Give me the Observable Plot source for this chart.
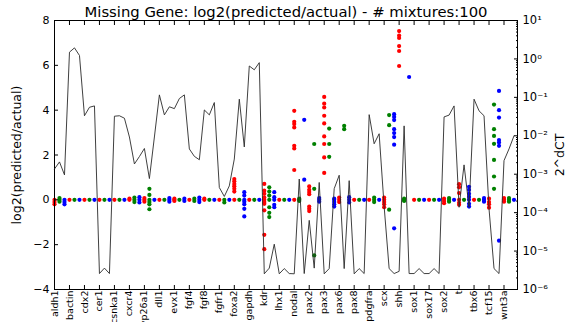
<!DOCTYPE html>
<html><head><meta charset="utf-8">
<script src="https://cdn.jsdelivr.net/npm/d3@7"></script>
<script src="https://cdn.jsdelivr.net/npm/@observablehq/plot@0.6"></script>
<style>
body{margin:0;background:#fff;}
#wrap{position:relative;width:577px;height:322px;overflow:hidden;background:#fff;}
#wrap svg{position:absolute;left:0;top:0;}
</style></head><body><div id="wrap"></div>
<script>
const title = "Missing Gene: log2(predicted/actual) - # mixtures:100";
const genes = ["aldh1","bactin","cdx2","cer1","csnka1","cxcr4","cyp26a1","dll1","evx1","fgf4","fgf8","fgfr1","foxa2","gapdh","kdr","lhx1","nodal","pax2","pax3","pax6","pax8","pdgfra","scx","shh","sox1","sox17","sox2","t","tbx6","tcf15","wnt3a"];

// actual expression 2^dCT, three samples (red, green, blue) per gene
const dct = [
  1.37e-3, 2.09e-3, 9.6e-4,
  1.50, 1.94, 1.23,
  0.0332, 0.0552, 0.0599,
  2.6e-6, 3.6e-6, 2.6e-6,
  0.0323, 0.0332, 0.0286,
  9.3e-3, 1.85e-3, 2.88e-3,
  4.67e-3, 7.7e-4, 9.3e-3,
  0.116, 0.035, 0.0568,
  0.0509, 0.0933, 0.116,
  4.54e-3, 2.92e-3, 2.38e-3,
  0.047, 0.035, 0.0733,
  4.5e-4, 2.64e-4, 4.96e-4,
  2.48e-3, 0.0896, 5.13e-3,
  0.655, 0.521, 0.80,
  2.56e-6, 3.6e-6, 1.51e-5,
  2.56e-6, 3.5e-6, 2.6e-6,
  2.56e-6, 7.5e-4, 2.6e-6,
  6.3e-5, 3.6e-6, 6.1e-4,
  2.56e-6, 3.5e-6, 4.2e-4,
  9.4e-4, 3.5e-6, 6.8e-4,
  2.56e-6, 3.5e-6, 2.6e-6,
  0.0355, 6.2e-3, 0.0113,
  1.44e-4, 3.5e-6, 2.6e-6,
  2.97e-6, 0.0181, 2.6e-6,
  2.6e-6, 3.5e-6, 2.6e-6,
  2.6e-6, 3.5e-6, 2.6e-6,
  0.031, 0.0345, 0.0599,
  1.38e-4, 1.75e-3, 1.38e-4,
  0.0896, 0.0446, 0.0332,
  1.26e-4, 3.5e-6, 2.6e-6,
  2.26e-3, 4.54e-3, 0.01
];

// log2(predicted/actual) per gene, distinct values seen over the mixtures
const redVals = [
  [0,-0.1,-0.2],[0],[0],[0],[0],[0,0.05],[0,0.08,-0.08],[0],[0,0.05,-0.05],[0],[0,0.05],[0],
  [0,0.37,0.49,0.61,0.71,0.83,0.93],[0],
  [0.71,0.41,0.27,0.1,0,-0.1,-0.18,-0.47,-1.56,-2.2],[0],
  [3.97,3.48,3.38,3.23,2.41,2.29,1.33,0],
  [0.6,0.45,0.35,0.25,-0.3,-0.4,-0.5],
  [4.59,4.29,4.12,3.75,3.41,2.83,2.49,1.89,1.2],
  [0.1,0,-0.1],[0],[0],[0.1,0,-0.1,-0.2,-0.33],
  [7.53,7.33,7.22,6.86,6.64,5.97],
  [0],[0],[0.05,-0.05,-0.15],[0.7,0.56,0.3,0,-0.13,-0.22],[0],[0.05,-0.1,-0.2,-0.35],[0.08,0,-0.08]
];
const greenVals = [
  [0.08,0,-0.08],[0],[0],[0],[0],[0.1,0,-0.1],[0.49,0.22,0,-0.1,-0.2,-0.42],[0],[0],[0.05,-0.05],[0],[0,-0.12],
  [0],[0],[0.56,0.37,0.19,0,-0.33,-0.58,-0.77],[0],[0.05,0,-0.05],
  [2.49,0.49,-2.48],[3.18,2.49,1.92],[3.3,3.15],[0],[0.1,0,-0.1],[3.78,3.33,-0.44],[0.05,0,-0.05],
  [0],[0],[0.08,0,-0.08],[0],[0],[4.25,3.15,2.85,2.5,1.78,1.04,0.49],[0.08,0,-0.08]
];
const blueVals = [
  [0,-0.1,-0.2],[0],[0],[0],[0],[0.12,0,-0.12],[0],[0.08,0,-0.08],[0.05,-0.05],[0.1,0,-0.1],[0],[0],
  [0.34,0.19,0,-0.08,-0.2,-0.4,-0.74],[0],[0.34,0.12,0,-0.22,-0.33],[0],
  [3.57,0.9],[0.08,0,-0.08],[0.05,0,-0.1,-0.2,-0.3],[0.12,0,-0.12],[0],[0],
  [3.82,3.7,3.56,3.15,2.98,2.8,2.46,-1.27],[5.48],
  [0],[0],[0],[0.58,0.44,0.27,0.13,0,-0.18,-0.3],[0.08,0,-0.08],[4.86,4.0,3.67,2.67,2.56,2.41,-1.82],[0]
];
const leftTicks = [-4,-2,0,2,4,6,8];
const rightTicks = [1e-6,1e-5,1e-4,1e-3,1e-2,1e-1,1,10];
const supMap = {"-":"⁻","0":"⁰","1":"¹","2":"²","3":"³","4":"⁴","5":"⁵","6":"⁶","7":"⁷","8":"⁸","9":"⁹"};

const series = [["#ff0000", redVals, 0], ["#008000", greenVals, 1], ["#0000ff", blueVals, 2]];
const dots = series.flatMap(([c, vals, off]) => vals.flatMap((arr, g) => arr.map(v => ({pos: g*3 + off, v, c}))));
const lineData = dct.map((v, k) => ({pos: k, v}));
const geneTicks = genes.map((g, i) => i*3);
const minorTicks = d3.range(-6, 1).flatMap(e => d3.range(2, 10).map(m => m * Math.pow(10, e)));

const W = 577, H = 322;
const M = {marginLeft: 54, marginRight: 60, marginTop: 20, marginBottom: 33};
const xDomain = [0, 92.7];
const font = "DejaVu Sans";

const p1 = Plot.plot({
  width: W, height: H, ...M,
  style: {fontFamily: font, fontSize: "11px", background: "transparent", color: "#000"},
  x: {domain: xDomain},
  y: {domain: [-4, 8]},
  color: {type: "identity"},
  marks: [
    Plot.dot(dots, {x: "pos", y: "v", r: 2.1, fill: "c", stroke: null}),
    Plot.axisY({ticks: leftTicks, tickSize: -4, tickPadding: 9, fontSize: 11, label: null}),
    Plot.axisY({ticks: [], label: "log2(predicted/actual)", fontSize: 12.5,
      labelAnchor: "center", labelArrow: "none", labelOffset: 42}),
    Plot.axisX({ticks: geneTicks, tickFormat: d => genes[Math.round(d/3)], tickRotate: -90,
      tickSize: -4, tickPadding: 5, fontSize: 9.5, label: null}),
    Plot.axisX({anchor: "top", ticks: geneTicks, tickFormat: () => "", tickSize: -4, label: null}),
    Plot.frame({stroke: "#000"}),
    Plot.text([title], {frameAnchor: "top", lineAnchor: "bottom", dy: -4, fontSize: 14.8, fill: "#000"})
  ]
});

const p2 = Plot.plot({
  width: W, height: H, ...M,
  style: {fontFamily: font, fontSize: "11px", background: "transparent", color: "#000"},
  x: {domain: xDomain, axis: null},
  y: {type: "log", domain: [1e-6, 10]},
  marks: [
    Plot.line(lineData, {x: "pos", y: "v", stroke: "#2a2a2a", strokeWidth: 0.9}),
    Plot.axisY({anchor: "right", ticks: minorTicks, tickSize: -2, tickFormat: () => "", label: null}),
    Plot.axisY({anchor: "right", ticks: rightTicks, tickSize: -4, tickPadding: 9, fontSize: 11.5,
      tickFormat: v => "10" + String(Math.round(Math.log10(v))).split("").map(ch => supMap[ch]).join(""),
      label: null}),
    Plot.axisY({anchor: "right", ticks: [], label: "2^dCT", fontSize: 12.5,
      labelAnchor: "center", labelArrow: "none", labelOffset: 46})
  ]
});

const wrap = document.getElementById("wrap");
wrap.appendChild(p1);
wrap.appendChild(p2);
</script></body></html>
